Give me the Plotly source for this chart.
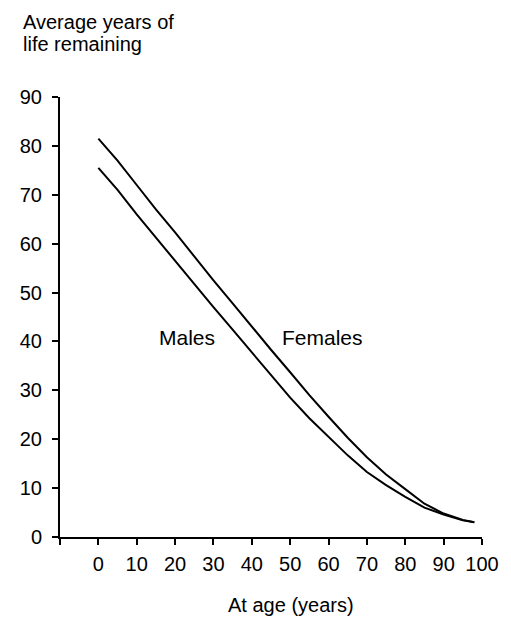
import plotly.graph_objects as go

ages_f = [0, 5, 10, 15, 20, 25, 30, 35, 40, 45, 50, 55, 60, 65, 70, 75, 80, 85, 90, 95, 98]
females = [81.5, 77.0, 72.0, 67.0, 62.3, 57.3, 52.5, 47.8, 43.0, 38.3, 33.7, 29.0, 24.6, 20.3, 16.3, 12.8, 9.8, 6.8, 4.8, 3.5, 3.0]
ages_m = [0, 5, 10, 15, 20, 25, 30, 35, 40, 45, 50, 55, 60, 65, 70, 75, 80, 85, 90, 95, 98]
males = [75.5, 71.0, 66.0, 61.2, 56.4, 51.7, 47.0, 42.4, 37.8, 33.0, 28.5, 24.3, 20.4, 16.7, 13.3, 10.6, 8.2, 6.0, 4.6, 3.4, 3.0]

x_ticks = [-10, 0, 10, 20, 30, 40, 50, 60, 70, 80, 90, 100]
x_labels = ["", "0", "10", "20", "30", "40", "50", "60", "70", "80", "90", "100"]
y_ticks = [0, 10, 20, 30, 40, 50, 60, 70, 80, 90]

FONT = "Liberation Sans, Arial, Helvetica, sans-serif"

# figure geometry (page body adds an 8px offset)
W, H = 503, 611
L, R, T, B = 51, 21, 89, 82
PW, PH = W - L - R, H - T - B


def px_x(x):
    return (x - L) / PW


def px_y(y):
    return (H - B - y) / PH


fig = go.Figure()
fig.add_trace(go.Scatter(x=ages_f, y=females, mode="lines",
                         line=dict(color="black", width=2), name="Females"))
fig.add_trace(go.Scatter(x=ages_m, y=males, mode="lines",
                         line=dict(color="black", width=2), name="Males"))

fig.update_layout(
    width=W, height=H,
    margin=dict(l=L, r=R, t=T, b=B),
    paper_bgcolor="white", plot_bgcolor="white",
    showlegend=False,
    font=dict(family=FONT, size=20, color="black"),
    xaxis=dict(range=[-10, 100], tickvals=x_ticks, ticktext=x_labels,
               showline=True, linecolor="black", linewidth=2,
               ticks="outside", ticklen=6, tickwidth=2, tickcolor="black",
               showgrid=False, zeroline=False, ticklabelstandoff=2,
               tickfont=dict(size=20)),
    yaxis=dict(range=[0, 90], tickvals=y_ticks,
               showline=True, linecolor="black", linewidth=2,
               ticks="outside", ticklen=6, tickwidth=2, tickcolor="black",
               showgrid=False, zeroline=False, ticklabelstandoff=6,
               tickfont=dict(size=20)),
    annotations=[
        dict(text="Males", x=23.2, y=40.9, xref="x", yref="y", showarrow=False,
             font=dict(size=21)),
        dict(text="Females", x=58.4, y=40.9, xref="x", yref="y", showarrow=False,
             font=dict(size=21)),
        dict(text="Average years of", x=px_x(11), y=px_y(14), xref="paper", yref="paper",
             showarrow=False, xanchor="left", yanchor="middle", font=dict(size=20)),
        dict(text="life remaining", x=px_x(11), y=px_y(36), xref="paper", yref="paper",
             showarrow=False, xanchor="left", yanchor="middle", font=dict(size=20)),
        dict(text="At age (years)", x=px_x(287), y=px_y(597), xref="paper", yref="paper",
             showarrow=False, xanchor="center", yanchor="middle", font=dict(size=20)),
    ],
)

fig.write_html("out.html")
